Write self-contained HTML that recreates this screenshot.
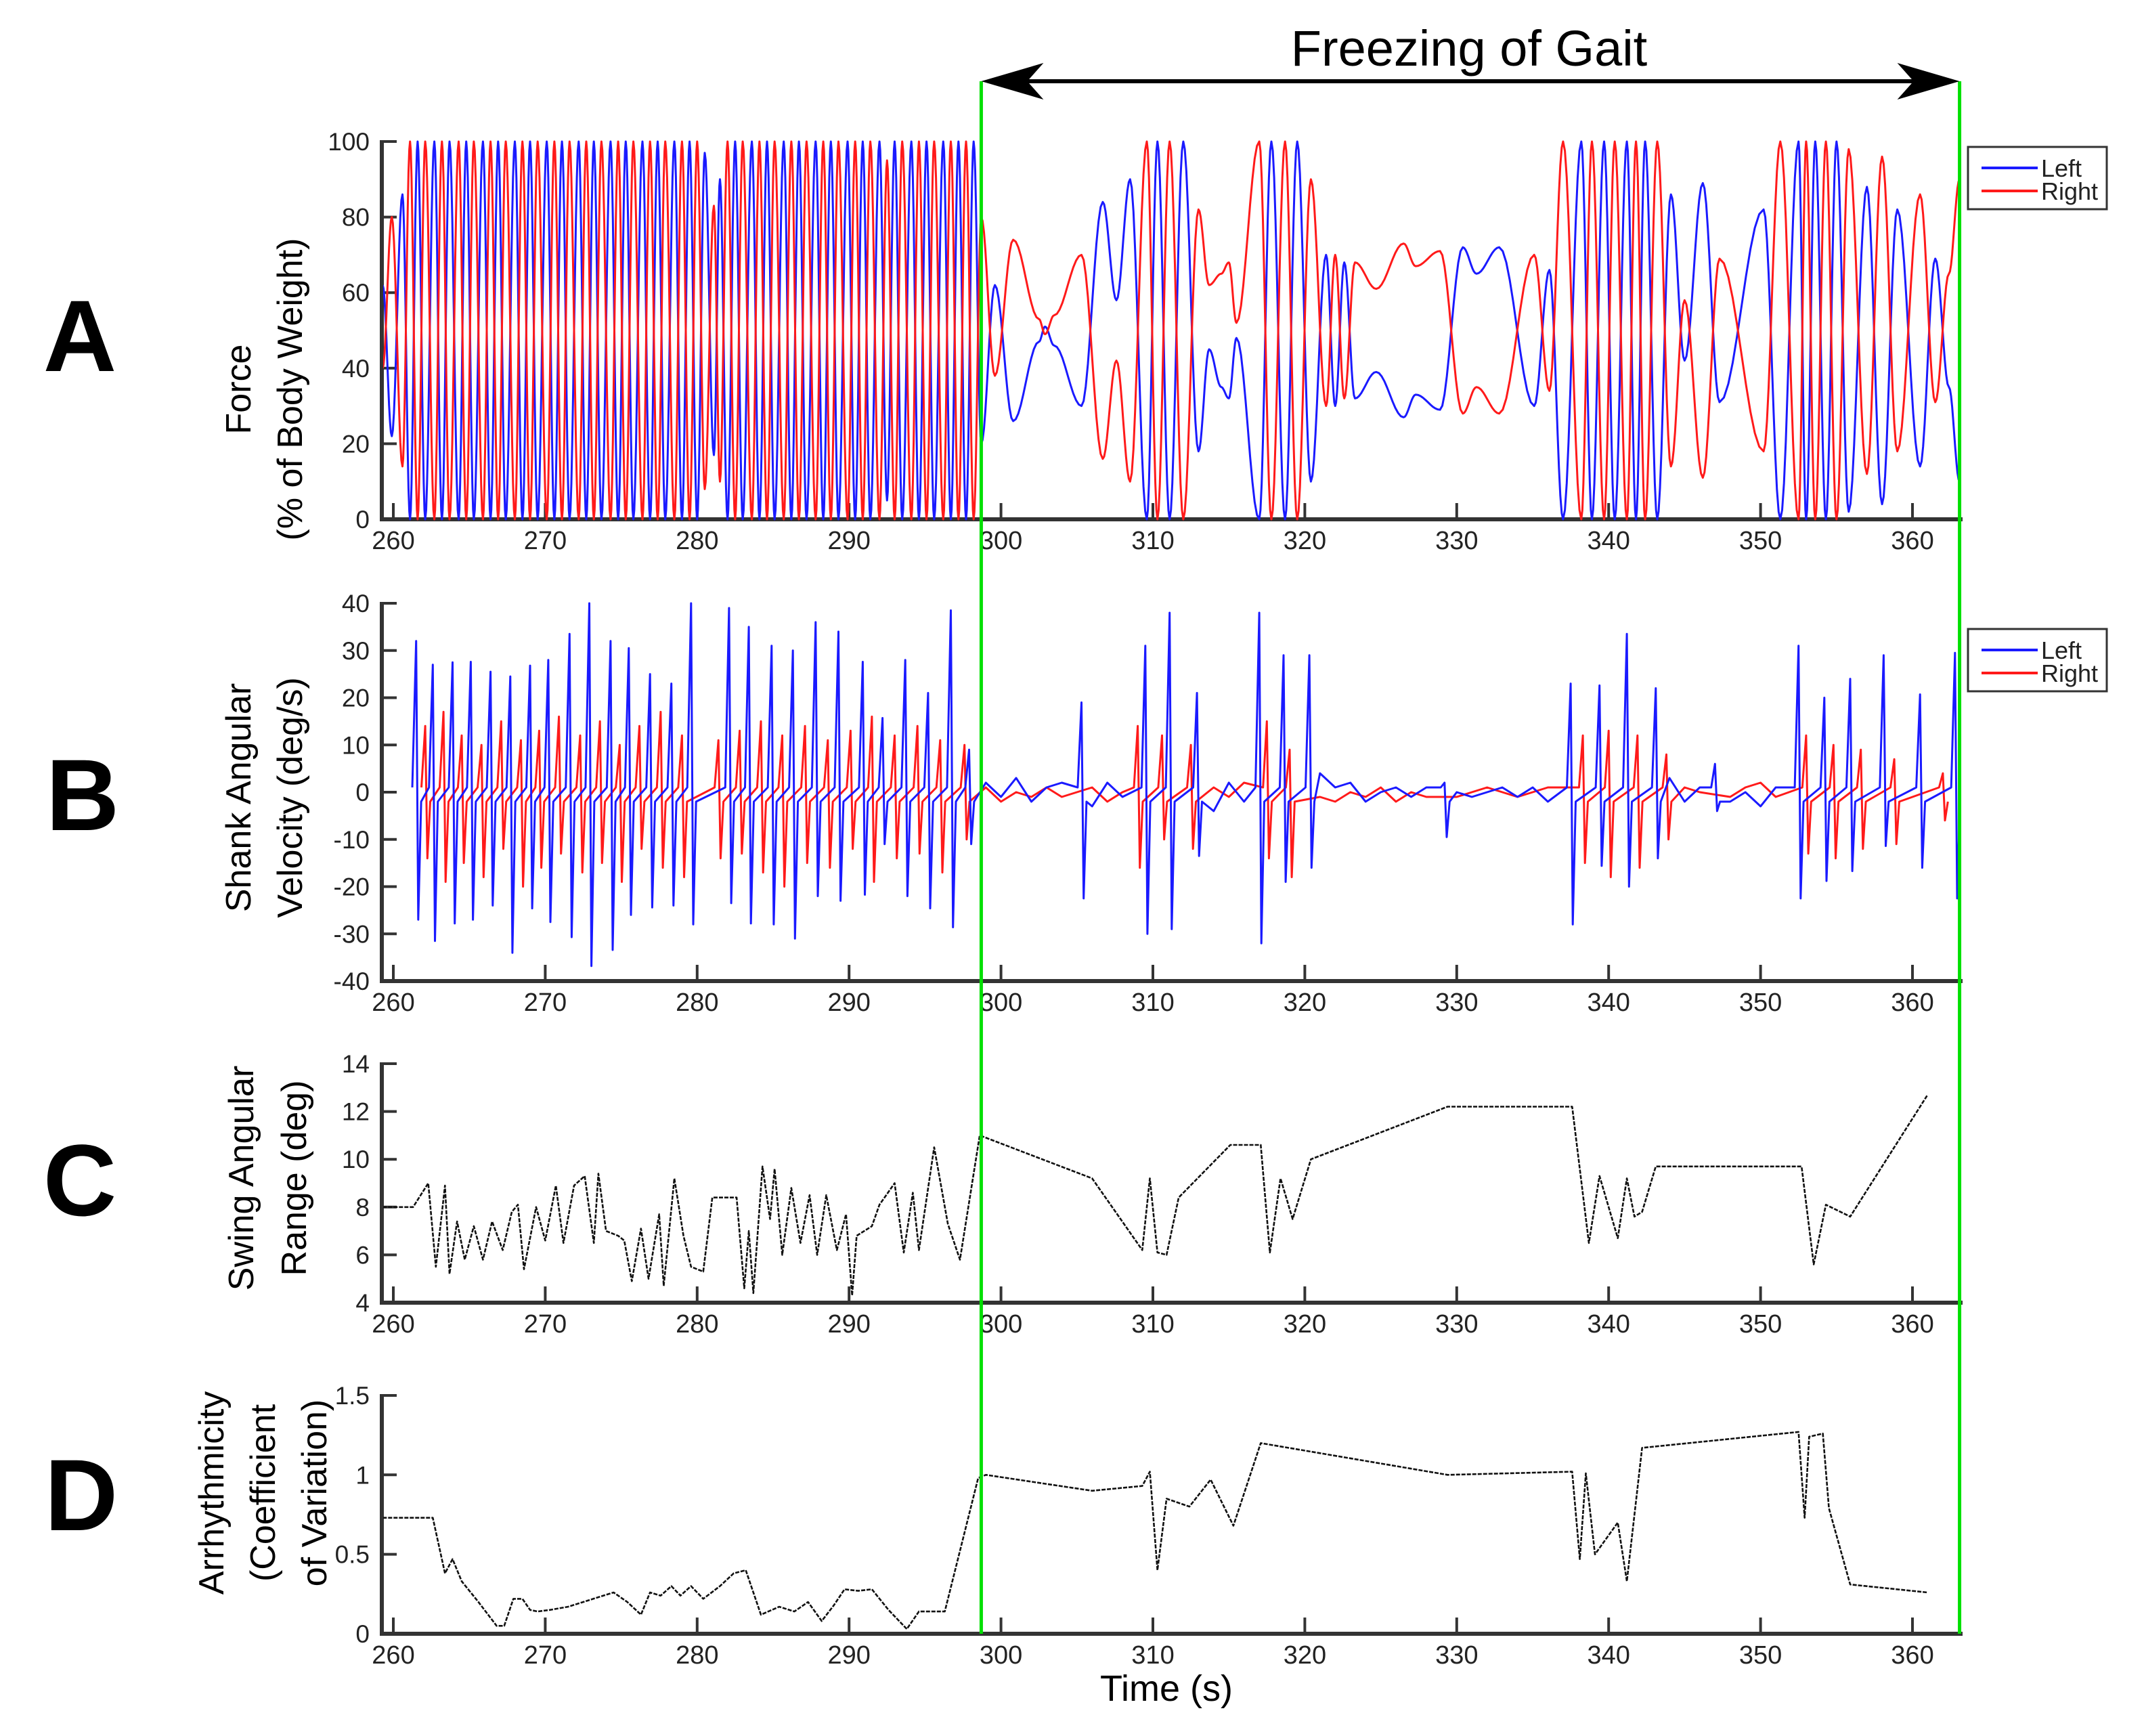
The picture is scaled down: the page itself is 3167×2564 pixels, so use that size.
<!DOCTYPE html>
<html><head><meta charset="utf-8"><style>
html,body{margin:0;padding:0;background:#fff}
svg{display:block}
text{font-family:"Liberation Sans",sans-serif}
</style></head><body>
<svg id="fig" width="3167" height="2564" viewBox="0 0 3167 2564" xmlns="http://www.w3.org/2000/svg">
<defs>
<clipPath id="clipPlot"><rect x="566" y="150" width="2329" height="2300"/></clipPath>
</defs>
<g id="layer"></g>
<text x="2170" y="97" font-size="74" text-anchor="middle">Freezing of Gait</text>
<text x="1723" y="2512" font-size="54" text-anchor="middle">Time (s)</text>
<text x="118" y="548" font-size="150" font-weight="bold" text-anchor="middle">A</text>
<text x="122" y="1226" font-size="150" font-weight="bold" text-anchor="middle">B</text>
<text x="118" y="1795" font-size="150" font-weight="bold" text-anchor="middle">C</text>
<text x="120" y="2260" font-size="150" font-weight="bold" text-anchor="middle">D</text>
<text transform="translate(370,575) rotate(-90)" font-size="52" text-anchor="middle">Force</text>
<text transform="translate(446,575) rotate(-90)" font-size="52" text-anchor="middle">(% of Body Weight)</text>
<text transform="translate(370,1178) rotate(-90)" font-size="52" text-anchor="middle">Shank Angular</text>
<text transform="translate(446,1178) rotate(-90)" font-size="52" text-anchor="middle">Velocity (deg/s)</text>
<text transform="translate(374,1740) rotate(-90)" font-size="52" text-anchor="middle">Swing Angular</text>
<text transform="translate(452,1740) rotate(-90)" font-size="52" text-anchor="middle">Range (deg)</text>
<text transform="translate(330,2205) rotate(-90)" font-size="52" text-anchor="middle">Arrhythmicity</text>
<text transform="translate(406,2205) rotate(-90)" font-size="52" text-anchor="middle">(Coefficient</text>
<text transform="translate(482,2205) rotate(-90)" font-size="52" text-anchor="middle">of Variation)</text>
</svg>
<script>
// ---------- data ----------
const xTicks = [260,270,280,290,300,310,320,330,340,350,360];
const ticksA = [0,20,40,60,80,100];
const ticksB = [-40,-30,-20,-10,0,10,20,30,40];
const ticksC = [4,6,8,10,12,14];
const ticksD = [0,0.5,1,1.5];
const ticksDLabels = ["0","0.5","1","1.5"];
const fogStart = 298.7, fogEnd = 363.1;

const forceT = [259.3,259.9,260.6,261.1,261.6,262.1,262.7,263.2,263.7,264.3,264.8,265.3,265.9,266.4,266.9,267.4,268.0,268.5,269.0,269.5,270.1,270.6,271.1,271.6,272.2,272.7,273.2,273.7,274.3,274.8,275.3,275.8,276.4,276.9,277.4,277.9,278.5,279.0,279.5,280.0,280.5,281.1,281.5,282.0,282.5,283.0,283.6,284.1,284.6,285.1,285.7,286.2,286.7,287.2,287.8,288.3,288.8,289.3,289.9,290.4,290.9,291.4,292.0,292.5,293.0,293.5,294.1,294.6,295.1,295.6,296.2,296.7,297.2,297.7,298.2,298.7,299.6,300.8,302.5,302.9,303.5,305.3,306.7,307.6,308.5,309.6,310.3,311.1,312.0,313.0,313.7,314.5,315.0,315.5,317.0,317.8,318.7,319.5,320.4,321.4,322.0,322.6,323.3,324.7,326.5,327.3,328.9,330.4,331.3,332.8,335.1,336.1,337.0,338.2,338.9,339.7,340.4,341.2,341.8,342.4,343.2,344.1,345.0,346.2,347.3,350.2,351.3,352.5,353.0,353.6,354.3,355.0,355.8,357.0,358.0,359.0,360.5,361.5,362.4,363.1];
const leftForce = [62,22,86,0,100,0,100,0,100,0,100,0,100,0,100,0,100,0,100,0,100,0,100,0,100,0,100,0,100,0,100,0,100,0,100,0,100,0,100,0,97,17,90,0,100,0,100,0,100,0,100,0,100,0,100,0,100,0,100,0,100,0,100,5,100,0,100,0,100,0,100,0,100,0,100,20,62,26,47,51,46,30,84,58,90,0,100,0,100,18,45,35,32,48,0,100,0,100,10,70,30,68,32,39,27,33,29,72,65,72,30,66,0,100,0,100,0,100,0,100,0,86,42,89,31,82,0,100,0,100,0,100,2,88,4,82,14,69,35,10];
const rightForce = [40,80,14,100,0,100,0,100,0,100,0,100,0,100,0,100,0,100,0,100,0,100,0,100,0,100,0,100,0,100,0,100,0,100,0,100,0,100,0,100,8,83,10,100,0,100,0,100,0,100,0,100,0,100,0,100,0,100,0,100,0,100,0,95,0,100,0,100,0,100,0,100,0,100,0,80,38,74,53,49,54,70,16,42,10,100,0,100,0,82,62,65,68,52,100,0,100,0,90,30,70,32,68,61,73,67,71,28,35,28,70,34,100,0,100,0,100,0,100,0,100,14,58,11,69,18,100,0,100,0,100,0,98,12,96,18,86,31,65,90];

const bLeftPeakT = [261.5,262.6,263.9,265.1,266.4,267.7,269.0,270.2,271.6,272.9,274.3,275.5,276.9,278.3,279.6,282.1,283.4,284.9,286.3,287.8,289.3,290.9,292.2,293.7,295.2,296.7,297.9,305.3,309.5,311.1,312.9,317.0,318.6,320.3,329.2,337.5,339.4,341.2,343.1,347.0,352.5,354.2,355.9,358.1,360.5,362.8];
const bLeftPeakV = [32,27,27.5,27.6,25.5,24.5,26.8,28,33.5,40,32,30.5,25,23,40,39,35,31,30,36,34,27.6,15.7,28,21,38.5,9,19,31,38,21,38,29,29,2,23,22.6,33.5,22,6,31,20,24,29,20.7,29.5];
const bLeftDipV = [-27,-31.5,-27.8,-27,-24,-34,-24.6,-27.5,-30.7,-36.8,-33.4,-26,-24.4,-24,-28,-23.5,-27.8,-28,-31,-22,-23,-21.7,-11,-22,-24.6,-28.6,-11,-22.5,-30,-29,-13.5,-32,-19,-16,-9.5,-28,-15.6,-20,-14,-4,-22.5,-18.8,-16.7,-11.4,-16,-22.5];
const bRightPeakT = [262.1,263.3,264.5,265.8,267.1,268.4,269.6,270.9,272.3,273.6,274.9,276.2,277.6,279.0,281.4,282.8,284.2,285.6,287.1,288.6,290.1,291.5,293.0,294.5,296.0,297.6,309.0,310.6,312.5,317.5,319.0,338.3,340.0,341.9,343.8,353.0,354.8,356.6,358.8,362.0];
const bRightPeakV = [14,17,12,10,15,11,13,16,12,15,10,14,17,12,11,13,15,12,14,11,13,16,12,14,11,10,14,12,10,15,9,12,13,12,8,12,10,9,7,4];
const bRightDipV = [-14,-19,-15,-18,-12,-20,-16,-13,-17,-15,-19,-12,-16,-18,-14,-13,-17,-20,-15,-16,-12,-19,-14,-13,-17,-10,-16,-10,-12,-14,-18,-15,-18,-16,-10,-13,-14,-12,-11,-6];
const bQuietT = [299,300,301,302,303,304,306,307,308,314,315,316,321,322,323,324,325,326,327,328,330,331,332,333,334,335,336,344,345,346,348,349,350,351];
const bLeftQuiet = [2,-1,3,-2,1,2,-3,2,-1,-4,2,-2,4,1,2,-2,0,1,-1,1,0,-1,0,1,-1,1,-2,3,-2,1,-2,0,-3,1];
const bRightQuiet = [1,-2,0,-1,1,-1,1,-2,0,1,-1,2,-1,-2,0,-1,1,-2,0,-1,-1,0,1,0,-1,0,1,-2,1,0,-1,1,2,-1];

const cT = [259.3,261.3,262.3,262.8,263.4,263.7,264.2,264.7,265.3,265.9,266.5,267.2,267.8,268.2,268.6,269.4,270.0,270.7,271.2,271.9,272.6,273.2,273.5,274.0,274.8,275.2,275.7,276.3,276.8,277.5,277.8,278.5,279.1,279.6,280.4,281.0,282.6,283.1,283.4,283.7,284.3,284.8,285.1,285.6,286.2,286.8,287.4,287.9,288.5,289.2,289.8,290.2,290.5,291.5,292.0,293.0,293.6,294.2,294.6,295.6,296.5,297.3,298.6,306.0,309.3,309.8,310.3,310.9,311.7,315.1,317.1,317.7,318.4,319.2,320.4,329.4,337.6,338.7,339.4,340.6,341.2,341.7,342.2,343.1,352.7,353.5,354.3,355.9,361.0];
const cV = [8,8,9,5.5,8.9,5.2,7.4,5.8,7.2,5.8,7.4,6.2,7.8,8.1,5.4,8,6.6,8.9,6.5,8.9,9.3,6.5,9.4,7,6.8,6.6,4.9,7.1,5,7.7,4.7,9.2,6.8,5.5,5.3,8.4,8.4,4.6,7,4.4,9.7,7.5,9.6,6,8.8,6.5,8.5,6,8.5,6.2,7.7,4.3,6.8,7.2,8.1,9,6.1,8.6,6.2,10.5,7.3,5.8,11,9.2,6.2,9.2,6.1,6,8.4,10.6,10.6,6.1,9.2,7.5,10,12.2,12.2,6.5,9.3,6.7,9.2,7.6,7.8,9.7,9.7,5.6,8.1,7.6,12.7];

const dT = [259.3,262.6,263.4,263.9,264.5,265.6,266.8,267.3,267.9,268.5,269.0,269.5,270.3,271.5,272.5,273.5,274.5,275.4,276.3,276.9,277.6,278.3,278.9,279.6,280.4,281.5,282.4,283.2,284.2,285.4,286.4,287.3,288.2,289.0,289.7,290.6,291.5,292.6,293.8,294.6,296.3,298.5,299.0,306.0,309.3,309.8,310.3,310.9,312.4,313.8,315.3,317.1,329.4,337.6,338.1,338.5,339.1,340.6,341.2,342.2,352.5,352.9,353.2,354.1,354.5,355.9,361.0];
const dV = [0.73,0.73,0.38,0.47,0.33,0.2,0.05,0.05,0.22,0.22,0.15,0.14,0.15,0.17,0.2,0.23,0.26,0.2,0.12,0.26,0.24,0.3,0.24,0.3,0.22,0.3,0.38,0.4,0.12,0.17,0.14,0.2,0.08,0.18,0.28,0.27,0.28,0.15,0.03,0.14,0.14,0.98,1.0,0.9,0.93,1.02,0.4,0.85,0.8,0.97,0.68,1.2,1.0,1.02,0.47,1.01,0.5,0.7,0.33,1.17,1.27,0.73,1.24,1.26,0.79,0.31,0.26];

// ---------- scales ----------
const X = t => 581 + (t - 260) * 22.44;
const YA = v => 767 - v * 5.58;
const YB = v => 1170 - v * 6.975;
const YC = v => 1924 - (v - 4) * 35.3;
const YD = v => 2413 - v * 234.7;
const AX_L = 564, AX_R = 2895;

const NS = "http://www.w3.org/2000/svg";
const layer = document.getElementById('layer');
function mk(tag, attrs, parent) {
  const e = document.createElementNS(NS, tag);
  for (const k in attrs) e.setAttribute(k, attrs[k]);
  (parent || layer).appendChild(e);
  return e;
}

function cosPath(ts, vs, Y) {
  let d = "";
  for (let i = 0; i < ts.length - 1; i++) {
    const n = 10;
    for (let j = 0; j <= n; j++) {
      if (i > 0 && j === 0) continue;
      const f = j / n, w = (1 - Math.cos(Math.PI * f)) / 2;
      const t = ts[i] + (ts[i + 1] - ts[i]) * f;
      const v = vs[i] + (vs[i + 1] - vs[i]) * w;
      d += (d ? "L" : "M") + X(t).toFixed(1) + "," + Y(v).toFixed(1);
    }
  }
  return d;
}
function linPath(ts, vs, Y) {
  return ts.map((t, i) => (i ? "L" : "M") + X(t).toFixed(1) + "," + Y(vs[i]).toFixed(1)).join("");
}

function axes(name, Y, ticks, labels, top, bottom) {
  const g = mk('g', {});
  
  
  const yl = mk('line', {x1: AX_L, y1: top - 2, x2: AX_L, y2: bottom + 3, stroke: '#333', 'stroke-width': 6}, g);
  
  
  const xl = mk('line', {x1: AX_L - 3, y1: bottom, x2: AX_R + 4, y2: bottom, stroke: '#333', 'stroke-width': 6}, g);
  
  
  ticks.forEach((v, i) => {
    const y = Y(v);
    const tk = mk('line', {x1: AX_L, y1: y, x2: AX_L + 22, y2: y, stroke: '#333', 'stroke-width': 4}, g);
    
    
    const tx = mk('text', {x: AX_L - 18, y: y + 13, 'font-size': 37, 'text-anchor': 'end', fill: '#222'}, g);
    tx.textContent = labels ? labels[i] : String(v);
    
    
  });
  xTicks.forEach(t => {
    const x = X(t);
    const tk = mk('line', {x1: x, y1: bottom, x2: x, y2: bottom - 24, stroke: '#333', 'stroke-width': 4}, g);
    
    
    const tx = mk('text', {x: x, y: bottom + 44, 'font-size': 38, 'text-anchor': 'middle', fill: '#222'}, g);
    tx.textContent = String(t);
    
    
  });
}

function series(d, color, w, name, dash) {
  const p = mk('path', {d: d, fill: 'none', stroke: color, 'stroke-width': w, 'stroke-linejoin': 'round', 'clip-path': 'url(#clipPlot)'});
  if (dash) p.setAttribute('stroke-dasharray', dash);
  
  
  return p;
}

function bKnots(peakT, peakV, dipV, quietV) {
  let k = [];
  peakT.forEach((t, i) => {
    k.push([t - 0.25, 1]); k.push([t, peakV[i]]); k.push([t + 0.14, dipV[i]]); k.push([t + 0.33, -2]);
  });
  bQuietT.forEach((t, i) => {
    if (!peakT.some(p => Math.abs(p - t) < 0.5)) k.push([t, quietV[i]]);
  });
  k.sort((a, b) => a[0] - b[0]);
  return [k.map(a => a[0]), k.map(a => a[1])];
}

// ---------- panels ----------
axes('force', YA, ticksA, null, 209, 767);
axes('velocity', YB, ticksB, null, 891, 1449);
axes('swing-range', YC, ticksC, null, 1571, 1924);
axes('arrhythmicity', YD, ticksD, ticksDLabels, 2061, 2413);

series(cosPath(forceT, leftForce, YA), '#1a1aff', 3, 'force-left-line');
series(cosPath(forceT, rightForce, YA), '#ff1a1a', 3, 'force-right-line');

const bl = bKnots(bLeftPeakT, bLeftPeakV, bLeftDipV, bLeftQuiet);
const br = bKnots(bRightPeakT, bRightPeakV, bRightDipV, bRightQuiet);
series(linPath(br[0], br[1], YB), '#ff1a1a', 3, 'velocity-right-line');
series(linPath(bl[0], bl[1], YB), '#1a1aff', 3, 'velocity-left-line');

series(linPath(cT, cV, YC), '#111', 2.6, 'swing-range-line', '6,2');
series(linPath(dT, dV, YD), '#111', 2.6, 'arrhythmicity-line', '6,2');

// legends
function legend(name, y0) {
  const g = mk('g', {});
  
  
  mk('rect', {x: 2907, y: y0, width: 205, height: 92, fill: '#fff', stroke: '#333', 'stroke-width': 3}, g);
  const l1 = mk('line', {x1: 2927, y1: y0 + 31, x2: 3010, y2: y0 + 31, stroke: '#1a1aff', 'stroke-width': 4}, g);
  
  
  const t1 = mk('text', {x: 3015, y: y0 + 44, 'font-size': 36, fill: '#222'}, g);
  t1.textContent = 'Left';
  
  
  const l2 = mk('line', {x1: 2927, y1: y0 + 65, x2: 3010, y2: y0 + 65, stroke: '#ff1a1a', 'stroke-width': 4}, g);
  
  
  const t2 = mk('text', {x: 3015, y: y0 + 78, 'font-size': 36, fill: '#222'}, g);
  t2.textContent = 'Right';
  
  
}
legend('force-legend', 217);
legend('velocity-legend', 929);

// FOG markers
const g1 = mk('line', {x1: X(fogStart), y1: 120, x2: X(fogStart), y2: 2413, stroke: '#00e000', 'stroke-width': 5});


const g2 = mk('line', {x1: X(fogEnd), y1: 120, x2: X(fogEnd), y2: 2413, stroke: '#00e000', 'stroke-width': 5});


const xa = X(fogStart), xb = X(fogEnd);
const arr = mk('line', {x1: xa + 60, y1: 120, x2: xb - 60, y2: 120, stroke: '#000', 'stroke-width': 6});


const h1 = mk('path', {d: `M${xa},120 L${xa + 92},93 L${xa + 68},120 L${xa + 92},147 Z`, fill: '#000'});


const h2 = mk('path', {d: `M${xb},120 L${xb - 92},93 L${xb - 68},120 L${xb - 92},147 Z`, fill: '#000'});


</script>
</body></html>
